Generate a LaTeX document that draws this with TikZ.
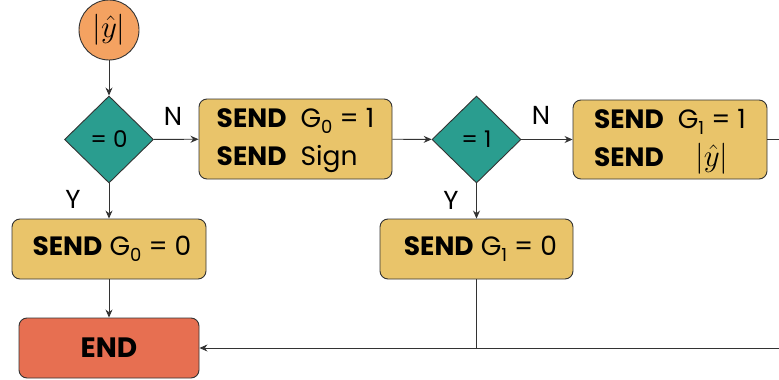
\documentclass[tikz,border=0pt]{standalone}
\usepackage{graphicx}
\usepackage{fontspec}
\setmainfont{Poppins}
\usetikzlibrary{shapes.geometric,arrows.meta}
\definecolor{cOrange}{HTML}{F4A261}
\definecolor{cTeal}{HTML}{2A9D8F}
\definecolor{cYellow}{HTML}{E9C46A}
\definecolor{cRed}{HTML}{E76F51}
\definecolor{cLine}{HTML}{333333}
\newcommand\gsub[1]{\raisebox{-6pt}{\fontsize{18}{18}\selectfont #1}}
\newcommand\absy[1]{\scalebox{#1}{\fontsize{20}{20}\selectfont$|\hat{y}|$}}
\tikzset{
  startc/.style={circle,draw=cLine,line width=0.9pt,fill=cOrange,minimum size=60pt,inner sep=0pt},
  dec/.style={diamond,draw=cLine,line width=0.9pt,fill=cTeal,minimum width=89pt,minimum height=87pt,inner sep=0pt,font=\fontsize{23}{23}\selectfont},
  box/.style={rectangle,rounded corners=8pt,draw=cLine,line width=0.9pt,fill=cYellow,inner sep=0pt,font=\fontsize{26.5}{38}\selectfont},
  endbox/.style={box,fill=cRed,font=\fontsize{28}{30}\selectfont},
  lbl/.style={inner sep=0pt,font=\fontsize{26}{26}\selectfont},
  arr/.style={draw=cLine,line width=0.9pt,-{Stealth[length=8pt,width=7pt]}},
  ln/.style={draw=cLine,line width=0.9pt},
}
\begin{document}
\begin{tikzpicture}[x=1pt,y=-1pt]
\useasboundingbox (0,0) rectangle (779,380);
\node[startc] (s) at (109,30) {\absy{1.5}};
\node[dec] (d1) at (109,139.5) {= 0};
\node[box,minimum width=193pt,minimum height=80pt] (b1) at (295.5,139) {\begin{tabular}{@{}l@{\hspace{14pt}}l@{}}\textbf{SEND} & G\gsub{0}\ =\ 1\\ \textbf{SEND} & Sign\end{tabular}};
\node[dec] (d2) at (476.5,139.5) {= 1};
\node[box,minimum width=194pt,minimum height=79pt] (b3) at (670,139.5) {\begin{tabular}{@{}l@{\hspace{14pt}}c@{}}\textbf{SEND} & G\gsub{1}\ =\ 1\\ \textbf{SEND} & \absy{1.5}\end{tabular}};
\node[box,minimum width=194pt,minimum height=60pt] (b2) at (109,249) {\hspace*{6pt}\textbf{SEND} G\gsub{0} = 0};
\node[box,minimum width=193pt,minimum height=60pt] (b4) at (476.5,249) {\hspace*{8pt}\textbf{SEND} G\gsub{1} = 0};
\node[endbox,minimum width=180pt,minimum height=60pt] (e) at (109,348) {\textbf{END}};
\node[lbl] (n1) at (173,116) {N};
\node[lbl] (n2) at (541,115) {N};
\node[lbl] (y1) at (73,199) {Y};
\node[lbl] (y2) at (451,200) {Y};
\coordinate (r1) at (779,139.5);
\coordinate (r2) at (779,348);
\draw[arr] (s) -- (d1);
\draw[arr] (d1) -- (b1);
\draw[arr] (d1) -- (b2);
\draw[arr] (b1) -- (d2);
\draw[arr] (d2) -- (b3);
\draw[arr] (d2) -- (b4);
\draw[ln] (b3) -- (r1);
\draw[arr] (b2) -- (e);
\draw[arr] (r2) -- (e);
\draw[ln] (b4) -- (b4 |- e);
\end{tikzpicture}
\end{document}
